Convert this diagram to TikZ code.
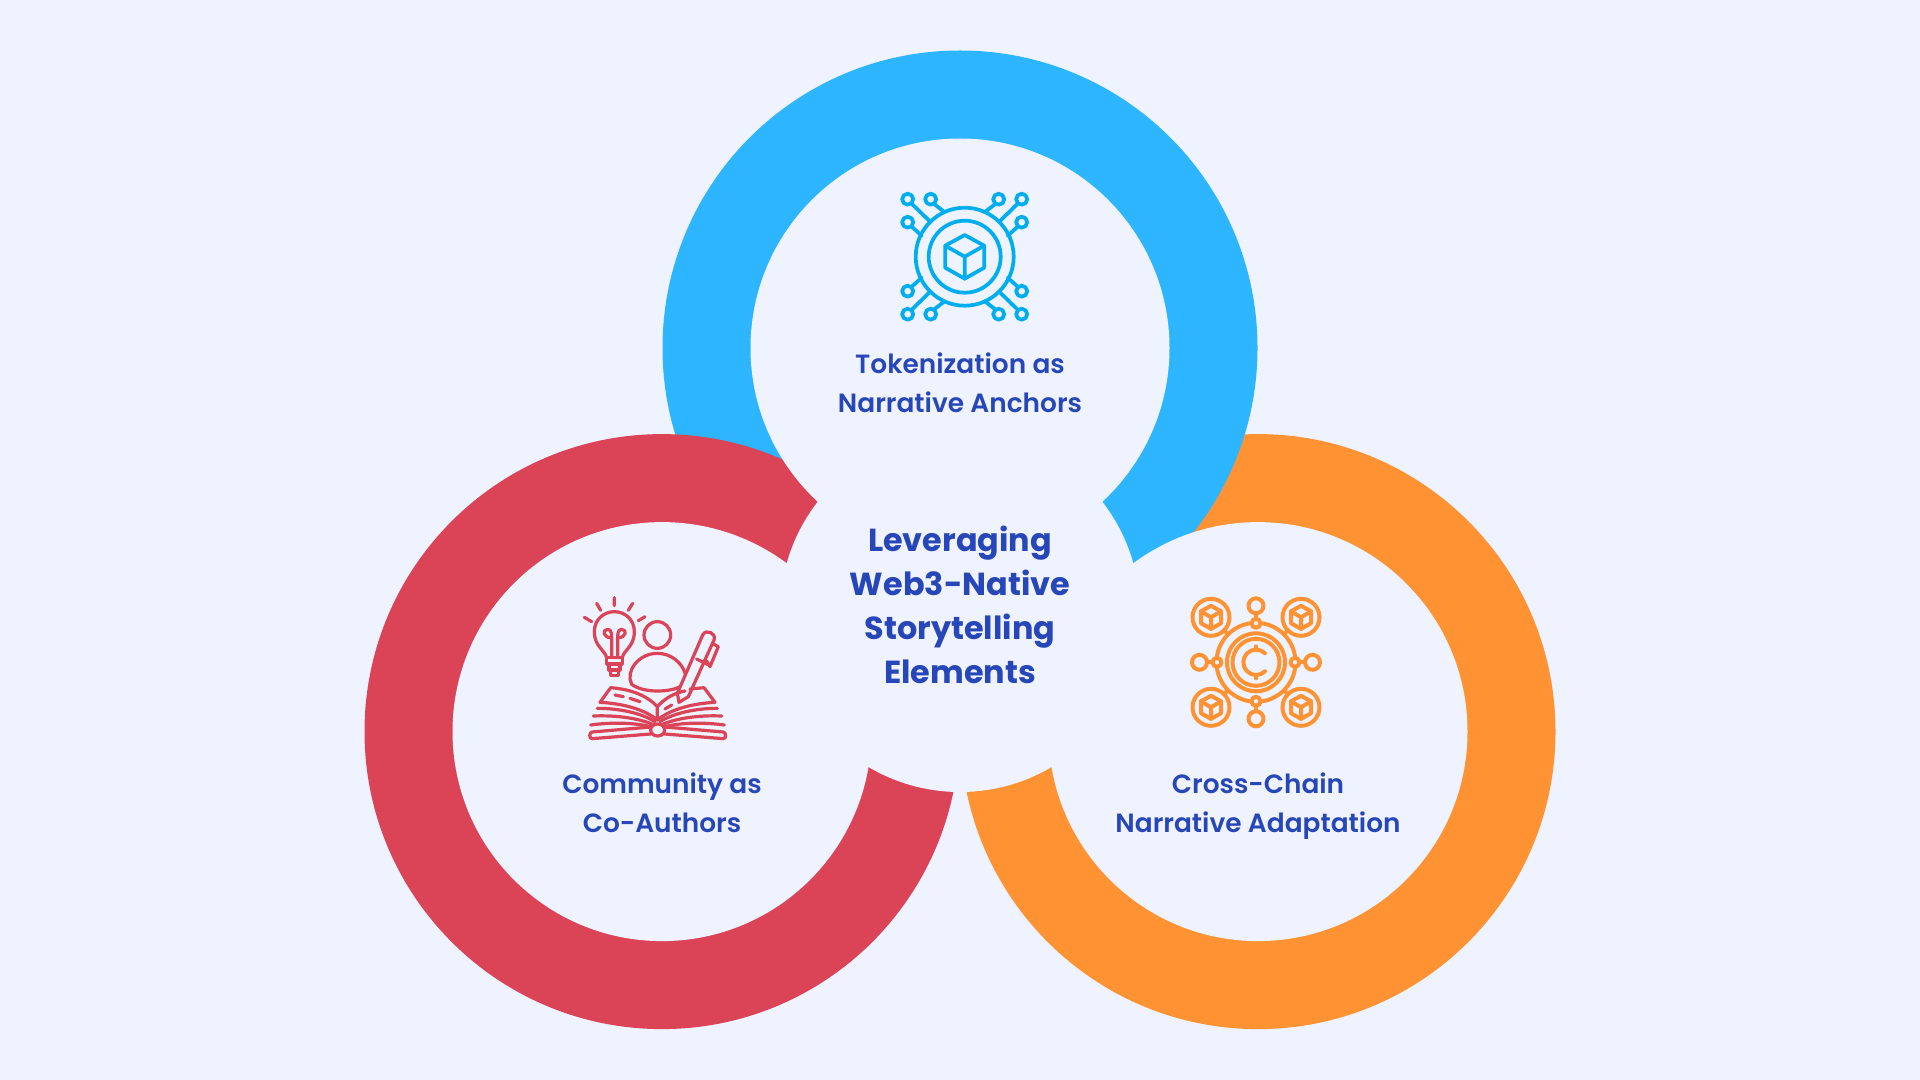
\documentclass[tikz,border=0pt]{standalone}
\usepackage{fontspec}
\setmainfont{Poppins}
\newfontfamily\popsb[UprightFont={* SemiBold}]{Poppins}
\definecolor{bgc}{HTML}{EFF3FF}
\definecolor{blueR}{HTML}{2EB5FF}
\definecolor{redR}{HTML}{DB4356}
\definecolor{orangeR}{HTML}{FF9233}
\definecolor{txt}{HTML}{2746B8}
\definecolor{iconB}{HTML}{00AEEF}
\tikzset{
  ringlbl/.style={text=txt,align=center,font=\popsb\fontsize{19.8}{29.2}\selectfont},
  hublbl/.style={text=txt,align=center,font=\bfseries\fontsize{23.9}{33}\selectfont},
  iconline/.style={line width=2.8pt,line cap=round,line join=round,fill=none},
}
\begin{document}
\begin{tikzpicture}[x=0.75pt,y=-0.75pt]
\useasboundingbox (0,0) rectangle (1920,1080);
\fill[bgc] (0,0) rectangle (1920,1080);
% rings
\fill[orangeR] (1258,731.6) circle (297.5);
\fill[blueR] (960,348) circle (297.5);
\fill[redR] (662,731.6) circle (297.5);
\fill[bgc] (1258,731.6) circle (209.5);
\fill[bgc] (960,348) circle (209.5);
\fill[bgc] (662,731.6) circle (209.5);
\fill[bgc] (960,612) circle (180);
% labels
\node[ringlbl] (tok) at (960,385) {\strut Tokenization as\\\strut Narrative Anchors};
\node[ringlbl] (com) at (662,805) {\strut Community as\\\strut Co-Authors};
\node[ringlbl] (cro) at (1258,805) {\strut Cross-Chain\\\strut Narrative Adaptation};
\node[hublbl] (hub) at (960,605) {Leveraging\\Web3-Native\\Storytelling\\Elements};
% blue icon
\begin{scope}[shift={(964.7,256.7)},iconline,draw=iconB]
\draw (0,0) circle (49);
\draw (0,0) circle (36);
\foreach \sx in {-1,1} \foreach \sy in {-1,1} {
  \draw (\sx*57,\sy*57.5) circle (5.5);
  \draw (\sx*34,\sy*57.5) circle (5.5);
  \draw (\sx*57,\sy*34.5) circle (5.5);
  \draw (\sx*53,\sy*53) -- (\sx*34.5,\sy*35);
  \draw (\sx*31,\sy*53) -- (\sx*20,\sy*44.5);
  \draw (\sx*53,\sy*30) -- (\sx*43,\sy*21);
}
\draw (0,-21.7) -- (19.5,-11) -- (19.5,11) -- (0,22) -- (-19.5,11) -- (-19.5,-11) -- cycle;
\draw (-19.5,-11) -- (0,0) -- (19.5,-11) (0,0) -- (0,22);
\end{scope}
% orange icon
\begin{scope}[shift={(1256,662.3)},iconline,line width=3pt,draw=orangeR]
\draw (0,0) circle (39.5);
\draw (0,0) circle (29);
\draw (0,0) circle (23.5);
\draw (9,-9) arc (-45:-315:12.7);
\draw (0,-13) -- (0,-16) (0,13) -- (0,16);
\foreach \a in {0,90,180,270} {
  \begin{scope}[rotate=\a]
  \fill[bgc] (39,0) circle (4.5);
  \draw (39,0) circle (4.5);
  \draw (56.5,0) circle (7.5);
  \draw (43.5,0) -- (49,0);
  \end{scope}
}
\foreach \sx in {-1,1} \foreach \sy in {-1,1} {
  \draw (\sx*45,\sy*45) circle (18.5);
  \draw (\sx*32,\sy*32) -- (\sx*28,\sy*28);
  \begin{scope}[shift={(\sx*45,\sy*45)}]
  \draw (0,-11.5) -- (10,-6) -- (10,6) -- (0,11.5) -- (-10,6) -- (-10,-6) -- cycle;
  \draw (-10,-6) -- (0,0) -- (10,-6) (0,0) -- (0,11.5);
  \end{scope}
}
\end{scope}
% red icon
\begin{scope}[shift={(570,585)},scale=1/3,iconline,line width=2.4pt,draw=redR]
\draw (133,38) -- (133,62) (80,55) -- (92,76) (188,55) -- (175,76) (43,97) -- (65,110) (225,95) -- (205,107);
\draw (110,218) .. controls (105,195) and (73,185) .. (73,140) .. controls (73,105) and (100,80) .. (133,80) .. controls (166,80) and (193,105) .. (193,140) .. controls (193,185) and (161,195) .. (157,218);
\draw (110,218) -- (157,218) -- (157,237) -- (110,237) -- cycle;
\draw (117,237) -- (117,255) -- (150,255) -- (150,237);
\draw (122,255) -- (122,272) -- (145,272) -- (145,255);
\draw (125,218) -- (125,158) .. controls (100,160) and (95,133) .. (113,133) .. controls (125,133) and (125,150) .. (125,158);
\draw (143,218) -- (143,158) .. controls (168,160) and (173,133) .. (155,133) .. controls (143,133) and (143,150) .. (143,158);
\draw (262,150) circle (40);
\draw (330,305) .. controls (300,322) and (220,325) .. (185,298) .. controls (165,260) and (205,205) .. (262,205) .. controls (300,205) and (335,230) .. (345,265);
\draw (322,325) -- (398,150) .. controls (408,130) and (440,145) .. (432,165) -- (355,335) -- (327,352) -- cycle;
\draw (380,222) -- (412,238);
\draw (432,178) -- (445,185) -- (420,245) -- (410,228);
\draw (90,352) -- (122,308) .. controls (170,312) and (225,325) .. (262,365) -- (262,405);
\draw (90,352) .. controls (150,355) and (220,370) .. (262,405);
\draw (262,365) .. controls (285,340) and (310,325) .. (345,318);
\draw (360,312) -- (402,308) -- (435,352) .. controls (375,355) and (305,370) .. (262,405);
\draw (135,330) -- (160,335) (180,340) -- (210,350) (285,372) -- (305,360);
\draw (82,370) .. controls (150,370) and (215,385) .. (255,410);
\draw (442,370) .. controls (375,370) and (310,385) .. (270,410);
\draw (70,393) .. controls (140,390) and (205,400) .. (248,418);
\draw (455,393) .. controls (385,390) and (320,400) .. (278,418);
\draw (62,420) .. controls (120,412) and (190,412) .. (242,425);
\draw (463,420) .. controls (405,412) and (335,412) .. (285,425);
\draw (242,426) -- (66,441) .. controls (57,442) and (57,462) .. (66,461) -- (242,447);
\draw (284,426) -- (460,441) .. controls (469,442) and (469,462) .. (460,461) -- (284,447);
\draw (263,435) ellipse (21 and 18);
\end{scope}
\end{tikzpicture}
\end{document}
